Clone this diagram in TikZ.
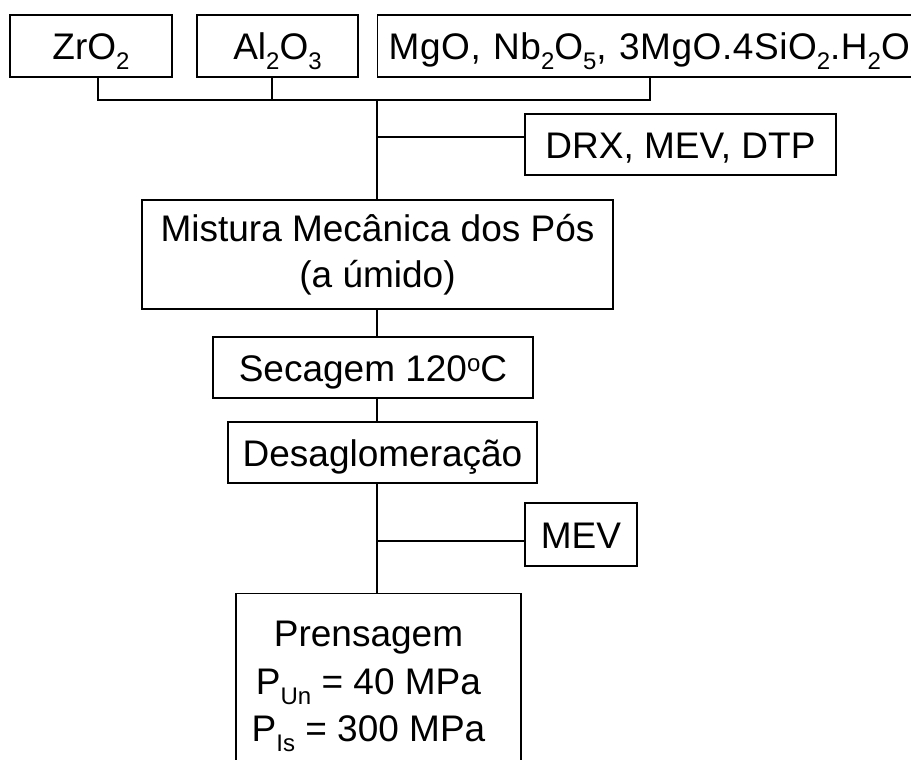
\documentclass[tikz,border=0pt]{standalone}
\usepackage{fontspec}
\setmainfont{Liberation Sans}
\usetikzlibrary{calc}

\newcommand{\subtxt}[1]{\raisebox{-10pt}{\fontsize{24}{24}\selectfont #1}}
\newcommand{\suptxt}[1]{\raisebox{10pt}{\fontsize{24}{24}\selectfont #1}}

\begin{document}
\begin{tikzpicture}[x=1pt, y=-1pt,
  font=\fontsize{37}{46}\selectfont,
  box/.style={draw=black, line width=1.4pt, inner sep=0pt,
              minimum height=62pt, text height=27pt, text depth=0pt},
  multi/.style={draw=black, line width=1.4pt, inner sep=0pt, align=center},
  link/.style={draw=black, line width=1.4pt},
]
\useasboundingbox (0,0) rectangle (911,760);

% ============ raw powders ============
\node[box, minimum width=162pt] (zro) at (91,46) {ZrO\subtxt{2}};
\node[box, minimum width=161pt] (alu) at (277.5,46) {Al\subtxt{2}O\subtxt{3}};
\node[box, anchor=west, inner xsep=11pt, text width=523pt, align=left] (mgo) at (377,46)
  {\mbox{\addfontfeature{LetterSpace=1.5}MgO, Nb\subtxt{2}O\subtxt{5}, 3MgO.4SiO\subtxt{2}.H\subtxt{2}O}};

% ============ characterisation / process steps ============
\node[box, minimum width=311pt, minimum height=61pt] (drx) at (680.5,144.5) {DRX, MEV, DTP};
\node[multi, minimum width=471pt, minimum height=109pt] (mist) at (377.5,254.5)
  {Mistura Mecânica dos Pós\\(a úmido)};
\node[box, minimum width=320pt, minimum height=61pt] (sec) at (373,367.5) {Secagem 120\suptxt{o}C};
\node[box, minimum width=309pt, minimum height=61pt] (des) at (382.5,452.5) {Desaglomeração};
\node[box, minimum width=112pt, minimum height=63pt] (mev) at (581,534.5) {MEV};
\node[multi, minimum width=285pt, minimum height=200pt, anchor=north] (prens) at (378.5,593) {};
\node[align=center, anchor=north, inner sep=0pt] (prenstext) at (368.5,621)
  {Prensagem\\[1.5pt]P\subtxt{Un} = 40 MPa\\[1.5pt]P\subtxt{Is} = 300 MPa};

% ============ connectors ============
\coordinate (join) at (377,100);
\draw[link] ([xshift=7pt]zro.south) |- (join) -| (mgo.south -| 650,0);
\draw[link] ([xshift=-5.5pt]alu.south) -- ([xshift=-5.5pt]alu.south |- join);
\draw[link] (join) -- (join |- mist.north);
\draw[link] ([yshift=7.5pt]drx.west) -- ([yshift=7.5pt]drx.west -| join);
\draw[link] (mist.south -| join) -- (sec.north -| join);
\draw[link] (sec.south -| join) -- (des.north -| join);
\draw[link] (des.south -| join) -- (prens.north -| join);
\draw[link] ([yshift=-6.5pt]mev.west) -- ([yshift=-6.5pt]mev.west -| join);

\end{tikzpicture}
\end{document}
